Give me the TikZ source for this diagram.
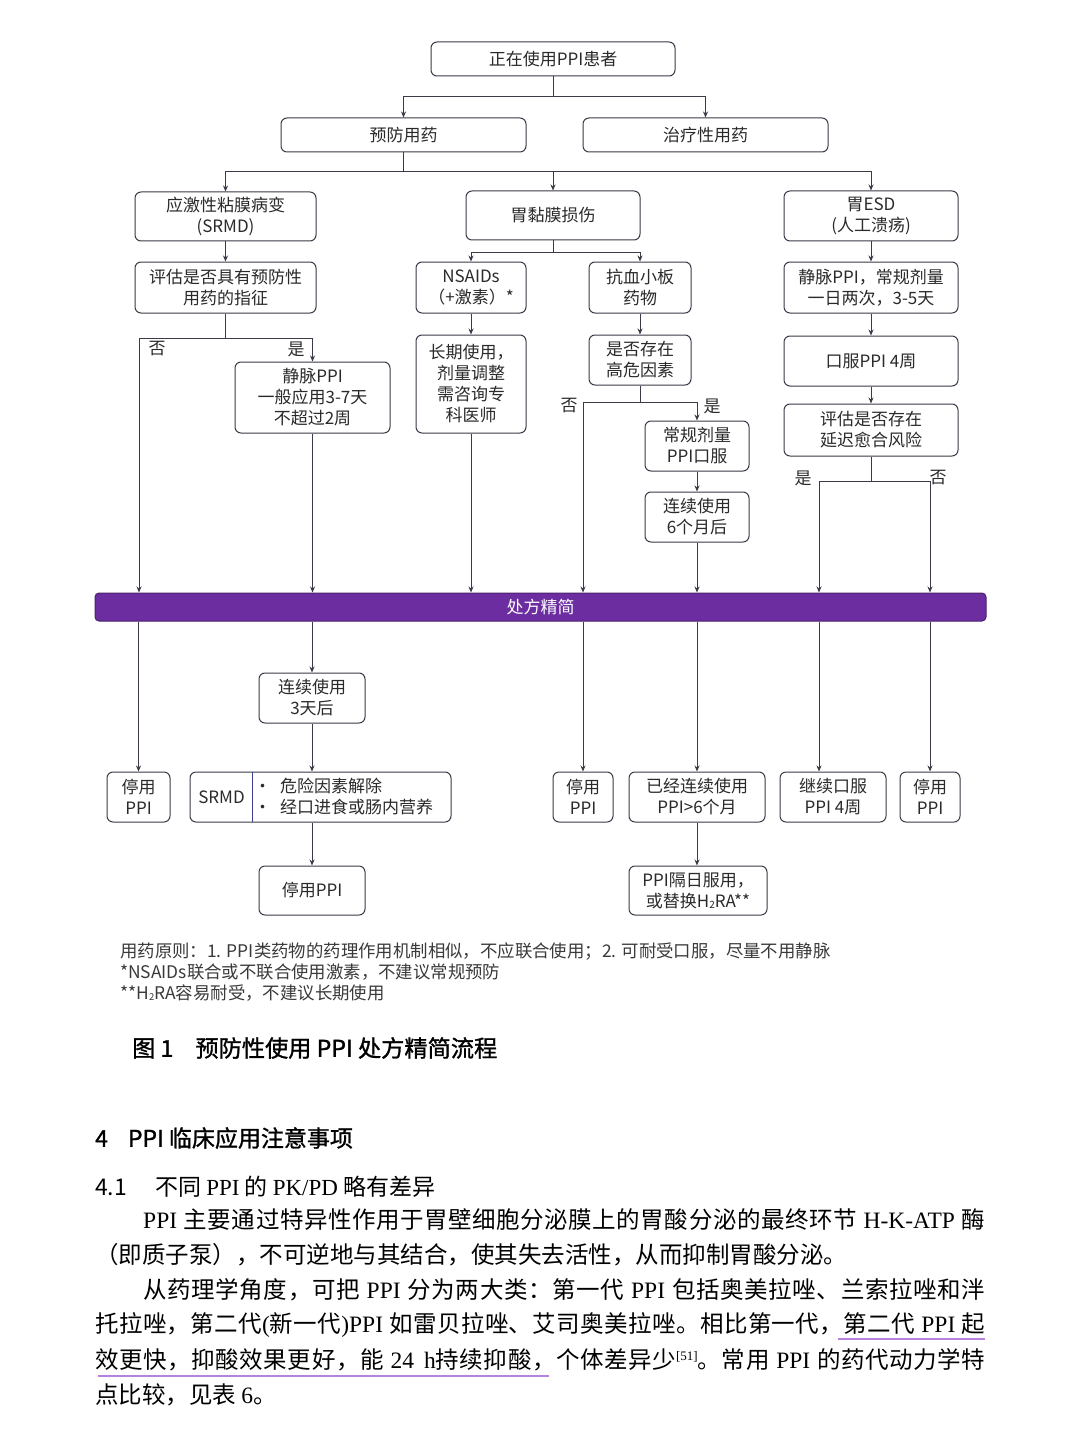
\documentclass[tikz,border=0pt]{standalone}
\usepackage{fontspec}
\usetikzlibrary{arrows.meta}
\setmainfont{Noto Sans CJK SC}
\newfontfamily\lat{Liberation Serif}
\newfontfamily\capf[FakeBold=1.2]{Noto Sans CJK SC}
% inter-character stretch for CJK (used to justify body lines)
\XeTeXinterchartokenstate=1
\newXeTeXintercharclass\cjkcls
\newcount\cc
\def\setcls#1#2{\cc=#1\relax\loop\XeTeXcharclass\cc=\cjkcls\relax\ifnum\cc<#2\relax\advance\cc by 1\repeat}
\setcls{"3000}{"303F}
\setcls{"4E00}{"9FFF}
\setcls{"FF00}{"FFEF}
\XeTeXinterchartoks\cjkcls\cjkcls={\hskip0pt plus 1pt\relax}
\XeTeXinterchartoks\cjkcls 0={\hskip0pt plus 1pt\relax}
\XeTeXinterchartoks 0\cjkcls={\hskip0pt plus 1pt\relax}
\definecolor{lc}{HTML}{3A3A48}
\definecolor{tc}{HTML}{2A2A2A}
\definecolor{barfill}{HTML}{6B2D9F}
\definecolor{barline}{HTML}{4A2270}
\definecolor{ulc}{HTML}{B583DD}
\definecolor{dvc}{HTML}{3B3F8F}
\definecolor{fnc}{HTML}{3A3A3A}
\begin{document}
\begin{tikzpicture}[x=1pt,y=-1pt,
 box/.style={draw=lc, line width=1pt, rounded corners=6pt, align=center, inner sep=0pt, text=tc, font=\fontsize{17}{21}\selectfont},
 arr/.style={draw=lc, line width=1pt, -{Stealth[length=6pt,width=5pt]}},
 ln/.style={draw=lc, line width=1pt},
 lbl/.style={text=tc, font=\fontsize{17}{21}\selectfont, inner sep=0pt},
 bodyl/.style={anchor=west, inner sep=0pt, text=black, font=\fontsize{23.5}{27}\selectfont},
]
\fill[white] (0,0) rectangle (1080,1439);
\useasboundingbox (0,0) rectangle (1080,1439);

% ---------- boxes ----------
\node[box, minimum width=244, minimum height=34] (top) at (553,59) {正在使用PPI患者};
\node[box, minimum width=245, minimum height=34] (yf) at (403.5,135) {预防用药};
\node[box, minimum width=245, minimum height=34] (zl) at (705.5,135) {治疗性用药};
\node[box, minimum width=181, minimum height=49] (srmda) at (225.5,216.5) {应激性粘膜病变\\(SRMD)};
\node[box, minimum width=174, minimum height=49] (wn) at (553,215.5) {胃黏膜损伤};
\node[box, minimum width=174, minimum height=50] (esd) at (871,216) {胃ESD\\(人工溃疡)};
\node[box, minimum width=181, minimum height=51] (pg) at (225.5,287.5) {评估是否具有预防性\\用药的指征};
\node[box, minimum width=110, minimum height=51] (ns) at (471,287.5) {NSAIDs\\（+激素）*};
\node[box, minimum width=102, minimum height=51] (kx) at (640,287.5) {抗血小板\\药物};
\node[box, minimum width=174, minimum height=51] (jm) at (871,287.5) {静脉PPI，常规剂量\\一日两次，3-5天};
\node[box, minimum width=155, minimum height=71] (jppi) at (312.5,397.5) {静脉PPI\\一般应用3-7天\\不超过2周};
\node[box, minimum width=110, minimum height=98] (cq) at (471,384) {长期使用，\\剂量调整\\需咨询专\\科医师};
\node[box, minimum width=102, minimum height=50] (gw) at (640,360) {是否存在\\高危因素};
\node[box, minimum width=174, minimum height=50] (kf) at (871,361) {口服PPI 4周};
\node[box, minimum width=104, minimum height=50] (cg) at (697,446) {常规剂量\\PPI口服};
\node[box, minimum width=174, minimum height=52] (yc) at (871,430) {评估是否存在\\延迟愈合风险};
\node[box, minimum width=104, minimum height=50] (lx6) at (697,517) {连续使用\\6个月后};

\node[draw=barline, fill=barfill, line width=1pt, rounded corners=4pt, minimum width=891, minimum height=28, inner sep=0pt,
      text=white, font=\fontsize{17}{21}\selectfont] (bar) at (540.5,607) {处方精简};

\node[box, minimum width=106, minimum height=50] (lx3) at (312,698) {连续使用\\3天后};
\node[box, minimum width=63, minimum height=50] (tp1) at (138.5,797) {停用\\PPI};
\node[box, minimum width=261, minimum height=50] (srmdb) at (320.5,797) {};
\node[lbl] (srmdt) at (221.5,797) {SRMD};
\node[lbl, anchor=west, align=left] (bul) at (254,797) {•\hspace{9pt}危险因素解除\\•\hspace{9pt}经口进食或肠内营养};
\draw[dvc, line width=1pt] (srmdb.north west) ++(63,0) -- ++(0,50);
\node[box, minimum width=60, minimum height=50] (tp2) at (583,797) {停用\\PPI};
\node[box, minimum width=136, minimum height=50] (yj) at (697,797) {已经连续使用\\PPI>6个月};
\node[box, minimum width=106, minimum height=50] (jx) at (833,797) {继续口服\\PPI 4周};
\node[box, minimum width=60, minimum height=50] (tp3) at (930,797) {停用\\PPI};
\node[box, minimum width=106, minimum height=49] (tp4) at (312,890.5) {停用PPI};
\node[box, minimum width=138, minimum height=49] (gr) at (698,890.5) {PPI隔日服用，\\或替换H\lower1.5pt\hbox{\fontsize{10}{10}\selectfont 2}RA**};

% ---------- connectors ----------
\coordinate (j1) at (553,97);
\draw[ln] (top.south) -- (j1);
\draw[arr] (j1) -| (yf.north);
\draw[arr] (j1) -| (zl.north);

\coordinate (j2) at (403.5,172);
\draw[ln] (yf.south) -- (j2);
\draw[arr] (j2) -| (srmda.north);
\draw[arr] (j2) -| (wn.north);
\draw[arr] (j2) -| (esd.north);

\draw[arr] (srmda.south) -- (pg.north);
\coordinate (j3) at (553,253);
\draw[ln] (wn.south) -- (j3);
\draw[arr] (j3) -| (ns.north);
\draw[arr] (j3) -| (kx.north);
\draw[arr] (esd.south) -- (jm.north);

\coordinate (j4) at (225.5,338);
\coordinate (c139) at (139,338);
\draw[ln] (pg.south) -- (j4);
\draw[arr] (j4) -| (jppi.north);
\draw[arr] (j4) -- (c139) -- (c139 |- bar.north);
\node[lbl] (no1) at (157,349) {否};
\node[lbl] (yes1) at (296,349) {是};
\draw[arr] (jppi.south) -- (jppi.south |- bar.north);

\draw[arr] (ns.south) -- (cq.north);
\draw[arr] (cq.south) -- (cq.south |- bar.north);

\draw[arr] (kx.south) -- (gw.north);
\coordinate (j5) at (640,402);
\coordinate (c583) at (583,402);
\draw[ln] (gw.south) -- (j5);
\draw[arr] (j5) -- (c583) -- (c583 |- bar.north);
\draw[arr] (j5) -| (cg.north);
\node[lbl] (no2) at (569,406) {否};
\node[lbl] (yes2) at (712,406) {是};
\draw[arr] (cg.south) -- (lx6.north);
\draw[arr] (lx6.south) -- (lx6.south |- bar.north);

\draw[arr] (jm.south) -- (kf.north);
\draw[arr] (kf.south) -- (yc.north);
\coordinate (j6) at (871,481);
\coordinate (c819) at (819,481);
\coordinate (c930) at (930,481);
\draw[ln] (yc.south) -- (j6);
\draw[arr] (j6) -- (c819) -- (c819 |- bar.north);
\draw[arr] (j6) -- (c930) -- (c930 |- bar.north);
\node[lbl] (yes3) at (803,478) {是};
\node[lbl] (no3) at (938,478) {否};

% below the bar
\draw[arr] (bar.south -| tp1.north) -- (tp1.north);
\draw[arr] (bar.south -| lx3.north) -- (lx3.north);
\draw[arr] (lx3.south) -- (lx3.south |- srmdb.north);
\draw[arr] (tp4.north |- srmdb.south) -- (tp4.north);
\draw[arr] (bar.south -| tp2.north) -- (tp2.north);
\draw[arr] (bar.south -| yj.north) -- (yj.north);
\draw[arr] (c819 |- bar.south) -- (c819 |- jx.north);
\draw[arr] (bar.south -| tp3.north) -- (tp3.north);
\draw[arr] (yj.south) -- (yj.south |- gr.north);

% ---------- notes and caption ----------
\node[anchor=west, inner sep=0pt, align=left, text=fnc, font=\fontsize{17.4}{21}\selectfont] (fn) at (120,972)
 {用药原则：1. PPI类药物的药理作用机制相似，不应联合使用；2. 可耐受口服，尽量不用静脉\\
  *NSAIDs联合或不联合使用激素，不建议常规预防\\
  **H\lower1.5pt\hbox{\fontsize{9.5}{9.5}\selectfont 2}RA容易耐受，不建议长期使用};
\node[anchor=west, inner sep=0pt, text=black, font=\capf\fontsize{23.2}{27}\selectfont] (cap) at (132,1048)
 {图 1\hspace{22pt}预防性使用 PPI 处方精简流程};

% ---------- body text ----------
\node[anchor=west, inner sep=0pt, text=black, font=\capf\fontsize{23}{27}\selectfont] (sec) at (95,1138)
 {4\hspace{20pt}PPI 临床应用注意事项};
\node[anchor=west, inner sep=0pt, text=black, font=\fontsize{23}{27}\selectfont] (sub) at (95,1187)
 {4.1\hspace{28pt}不同 {\lat PPI} 的 {\lat PK/PD} 略有差异};
\node[bodyl] (p1) at (143,1220) {\hbox to 842pt{{\lat PPI} 主要通过特异性作用于胃壁细胞分泌膜上的胃酸分泌的最终环节 {\lat H-K-ATP} 酶}};
\node[bodyl] (p2) at (95,1255) {（即质子泵），不可逆地与其结合，使其失去活性，从而抑制胃酸分泌。};
\node[bodyl] (p3) at (143,1290) {\hbox to 842pt{从药理学角度，可把 {\lat PPI} 分为两大类：第一代 {\lat PPI} 包括奥美拉唑、兰索拉唑和泮}};
\node[bodyl] (p4) at (95,1325) {\hbox to 890pt{托拉唑，第二代{\lat (}新一代{\lat )PPI} 如雷贝拉唑、艾司奥美拉唑。相比第一代，第二代 {\lat PPI} 起}};
\node[bodyl] (p5) at (95,1360) {\hbox to 890pt{效更快，抑酸效果更好，能 {\lat 24}\hspace{10pt}{\lat h}持续抑酸，个体差异少\raisebox{8pt}{\lat\fontsize{13}{13}\selectfont [51]}。常用 {\lat PPI} 的药代动力学特}};
\node[bodyl] (p6) at (95,1395) {点比较，见表 {\lat 6}。};
\draw[ulc, line width=2pt] (838,1339) -- (985,1339);
\draw[ulc, line width=2pt] (98,1376) -- (549,1376);
\end{tikzpicture}
\end{document}
